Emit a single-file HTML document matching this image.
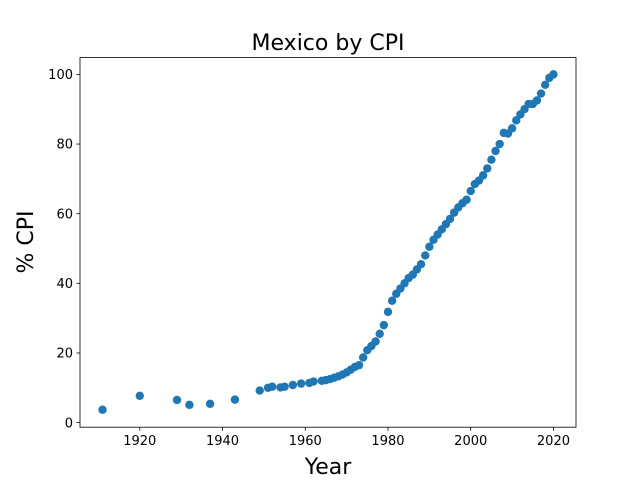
<!DOCTYPE html>
<html><head><meta charset="utf-8"><style>body{margin:0;background:#fff}svg{display:block;font-family:"DejaVu Sans","Liberation Sans",sans-serif}</style></head>
<body>
<svg id="chart" width="640" height="480" viewBox="0 0 640 480"></svg>
<script>
const years=[1911,1920,1929,1932,1937,1943,1949,1951,1952,1954,1955,1957,1959,1961,1962,1964,1965,1966,1967,1968,1969,1970,1971,1972,1973,1974,1975,1976,1977,1978,1979,1980,1981,1982,1983,1984,1985,1986,1987,1988,1989,1990,1991,1992,1993,1994,1995,1996,1997,1998,1999,2000,2001,2002,2003,2004,2005,2006,2007,2008,2009,2010,2011,2012,2013,2014,2015,2016,2017,2018,2019,2020];
const cpi=[3.7,7.7,6.5,5.1,5.4,6.6,9.2,10,10.3,10.1,10.3,10.8,11.2,11.4,11.8,12,12.2,12.5,12.9,13.3,13.8,14.4,15.2,16,16.5,18.7,20.8,22,23.3,25.5,28,31.8,35,37,38.5,40,41.5,42.5,44,45.5,48,50.5,52.5,54,55.5,57,58.5,60.3,61.8,63,64,66.5,68.5,69.5,71,73,75.5,78,80,83.2,83,84.5,86.8,88.5,90,91.5,91.5,92.5,94.5,97,99,100];
const xTicks=[1920,1940,1960,1980,2000,2020];
const yTicks=[0,20,40,60,80,100];
const L=80,R=576,T=57.6,B=427.2,x0=1905.55,x1=2025.45,y0=-1.32,y1=104.82;
const X=v=>L+(v-x0)/(x1-x0)*(R-L);
const Y=v=>B-(v-y0)/(y1-y0)*(B-T);
const NS="http://www.w3.org/2000/svg",svg=document.getElementById('chart');
function mk(t,a,txt){const e=document.createElementNS(NS,t);for(const k in a)e.setAttribute(k,a[k]);if(txt!=null)e.textContent=txt;svg.appendChild(e);return e;}
years.forEach((yr,i)=>{const c=mk('circle',{cx:X(yr),cy:Y(cpi[i]),r:4.2,fill:'#1f77b4'});

});
const f=mk('rect',{x:L,y:T,width:R-L,height:B-T,fill:'none',stroke:'#000','stroke-width':0.8});


xTicks.forEach(t=>{mk('line',{x1:X(t),x2:X(t),y1:B,y2:B+3.5,stroke:'#000','stroke-width':0.8});
const e=mk('text',{x:X(t),y:B+18,'font-size':13,'text-anchor':'middle'},t);

});
yTicks.forEach(t=>{mk('line',{x1:L,x2:L-3.5,y1:Y(t),y2:Y(t),stroke:'#000','stroke-width':0.8});
const e=mk('text',{x:L-7,y:Y(t)+4.7,'font-size':13,'text-anchor':'end'},t);

});
const ti=mk('text',{x:328,y:50,'font-size':22,'text-anchor':'middle'},'Mexico by CPI');


const xl=mk('text',{x:328,y:474,'font-size':22,'text-anchor':'middle'},'Year');


const yl=mk('text',{x:0,y:0,'font-size':22,'text-anchor':'middle',transform:'translate(33,242) rotate(-90)'},'% CPI');


</script>
</body></html>
